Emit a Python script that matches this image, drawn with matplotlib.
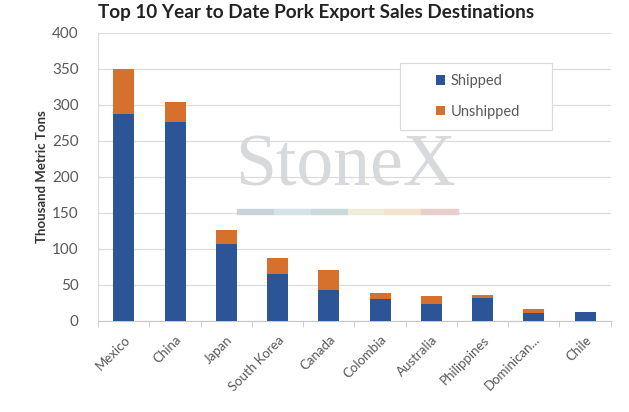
import matplotlib
matplotlib.use("Agg")
import matplotlib.pyplot as plt
from matplotlib.patches import Rectangle
import numpy as np

plt.rcParams['font.family'] = ['Lato', 'DejaVu Sans']

countries = ["Mexico", "China", "Japan", "South Korea", "Canada", "Colombia",
             "Australia", "Philippines", "Dominican...", "Chile"]
shipped = [288, 277, 107, 65, 43, 31, 23, 32, 11, 12]
unshipped = [62, 27, 20, 22, 28, 8, 12, 4, 5, 1]
yticks = [0, 50, 100, 150, 200, 250, 300, 350, 400]

blue = "#2C5597"
orange = "#D5712C"
grid = "#DCDCDC"
text_gray = "#595959"

fig = plt.figure(figsize=(6.29, 4.12), dpi=100)
ax = fig.add_axes([0.156, 0.221, 0.815, 0.699])

x = np.arange(len(countries))
ax.bar(x, shipped, width=0.41, color=blue, label="Shipped", zorder=3)
ax.bar(x, unshipped, width=0.41, bottom=shipped, color=orange,
       label="Unshipped", zorder=3)

ax.set_xlim(-0.5, len(countries) - 0.5)
ax.set_ylim(0, 400)
ax.set_yticks(yticks)
ax.yaxis.grid(True, color=grid, linewidth=0.9, zorder=0)
ax.set_axisbelow(True)

for s in ["top", "right"]:
    ax.spines[s].set_visible(False)
ax.spines["left"].set_color(grid)
ax.spines["bottom"].set_color("#C8C8C8")

ax.set_xticks(x)
ax.set_xticklabels(countries, rotation=45, ha="right", rotation_mode="anchor",
                   fontsize=9.5, color=text_gray)
ax.tick_params(axis="x", length=0, pad=9)
ax.set_xticks(np.arange(-0.5, len(countries), 1), minor=True)
ax.tick_params(axis="x", which="minor", length=4, color="#C8C8C8")
ax.tick_params(axis="y", length=0, labelsize=11, colors=text_gray, pad=14)

ax.set_ylabel("Thousand Metric Tons", fontsize=9.5, fontweight="bold",
              color="#333333", labelpad=3)

fig.text(0.503, 0.970, "Top 10 Year to Date Pork Export Sales Destinations",
         ha="center", va="center", fontsize=13.6, fontweight="bold",
         color="#222222")

# watermark
fig.text(0.549, 0.592, "StoneX", ha="center", va="center", fontsize=53,
         family="Liberation Serif", color="#D3D6DA", alpha=0.9, zorder=1)
band_cols = ["#C9D3DB", "#D6E2EA", "#CBD9DB", "#F1ECD8", "#F2E4CC", "#E8CFCB"]
band_x0, band_w = 0.377, 0.351
seg = band_w / len(band_cols)
for i, c in enumerate(band_cols):
    fig.patches.append(Rectangle((band_x0 + i * seg, 0.480), seg, 0.012,
                                 transform=fig.transFigure, color=c,
                                 zorder=1))

# legend box drawn separately so it can be wider than its entries
ax.add_patch(Rectangle((0.636, 0.684), 0.242, 0.163,
                       transform=fig.transFigure, facecolor="white",
                       edgecolor="#D9D9D9", linewidth=0.8, zorder=4,
                       clip_on=False))
leg = ax.legend(loc="center", bbox_to_anchor=(0.760, 0.766),
                bbox_transform=fig.transFigure, frameon=False, fontsize=10.5,
                labelspacing=1.15, handlelength=0.6, handleheight=0.6,
                handletextpad=0.35)
leg.set_zorder(5)
for t in leg.get_texts():
    t.set_color(text_gray)

fig.savefig("out.png", dpi=100)
